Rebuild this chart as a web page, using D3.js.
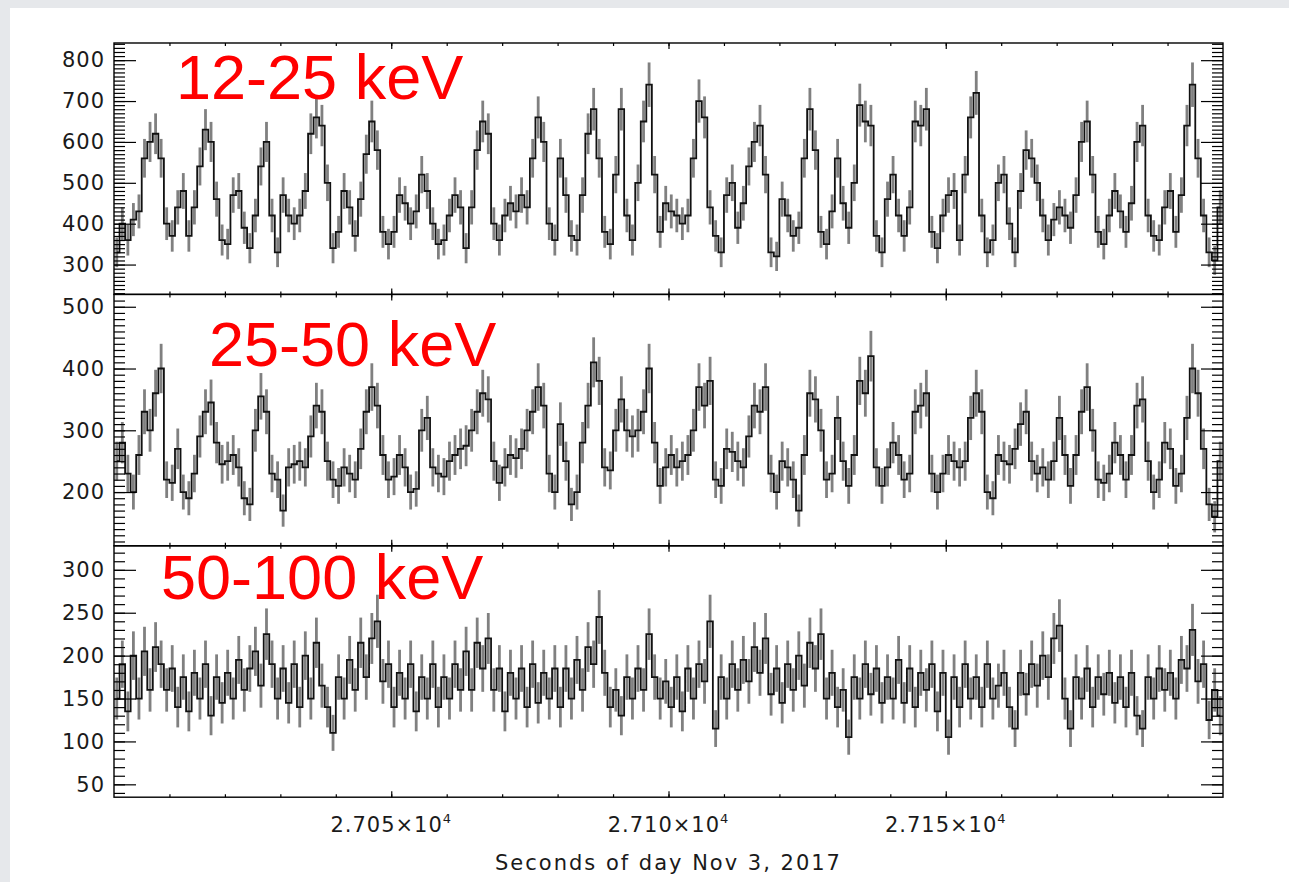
<!DOCTYPE html>
<html>
<head>
<meta charset="utf-8">
<script src="https://cdn.jsdelivr.net/npm/d3@7"></script>
<style>
  html, body { margin: 0; padding: 0; background: #e6e8eb; }
  svg { display: block; }
  .axis path.domain { display: none; }
  .axis line { stroke: #000; stroke-width: 1.2; }
  .axis text, .xlabel, .xtitle {
    font-family: "DejaVu Sans", sans-serif;
    font-weight: 400;
    font-size: 21px;
    fill: #1a1a1a;
    letter-spacing: 1px;
  }
  .band { font-family: "Liberation Sans", Arial, sans-serif; font-size: 63px; fill: #ff0000; }
</style>
</head>
<body>
<div id="chart"></div>
<script>
// Time axis: 1 s samples starting at 27000 s of day
var timeStart = 27000;
var binSize = 1;

// count rates (counts/s), one value per second
var counts12to25 = [
  330, 400, 360, 410, 430, 560, 600, 620, 560, 400,
  370, 440, 480, 370, 440, 540, 630, 600, 460, 360,
  350, 470, 480, 390, 340, 420, 540, 600, 420, 330,
  470, 420, 400, 420, 480, 620, 660, 640, 500, 340,
  380, 480, 440, 370, 460, 570, 650, 580, 380, 350,
  380, 470, 450, 400, 430, 520, 480, 400, 350, 360,
  420, 470, 440, 340, 440, 580, 650, 620, 400, 360,
  420, 450, 430, 470, 440, 560, 660, 600, 400, 360,
  560, 470, 370, 360, 470, 620, 680, 560, 380, 350,
  520, 680, 420, 360, 500, 650, 740, 520, 380, 450,
  430, 420, 400, 420, 560, 700, 660, 440, 370, 330,
  470, 500, 390, 450, 540, 600, 640, 520, 330, 320,
  460, 420, 370, 390, 560, 680, 580, 380, 350, 430,
  560, 450, 390, 500, 690, 650, 640, 370, 330, 460,
  520, 420, 370, 440, 650, 640, 680, 380, 340, 420,
  470, 480, 360, 520, 660, 720, 420, 330, 360, 500,
  520, 400, 330, 480, 580, 560, 500, 420, 360, 410,
  440, 420, 390, 470, 600, 650, 520, 380, 350, 420,
  480, 430, 380, 450, 600, 640, 420, 370, 360, 440,
  480, 380, 470, 640, 740, 560, 420, 330, 310, 440
];

var counts25to50 = [
  250, 280, 230, 200, 260, 330, 300, 360, 400, 220,
  215, 270, 200, 190, 230, 290, 330, 345, 280, 245,
  250, 260, 240, 190, 180, 300, 355, 330, 230, 220,
  170, 240, 245, 250, 240, 290, 340, 330, 250, 220,
  210, 240, 230, 220, 270, 330, 370, 340, 260, 220,
  225, 260, 240, 200, 205, 300, 320, 240, 230, 225,
  250, 260, 270, 275, 300, 330, 360, 350, 250, 215,
  240, 260, 255, 270, 300, 330, 370, 340, 230, 200,
  310, 250, 180, 200, 280, 340, 410, 380, 240, 235,
  300, 350, 300, 290, 300, 330, 400, 280, 210, 240,
  260, 240, 250, 260, 300, 370, 340, 380, 220, 210,
  270, 265, 250, 240, 290, 340, 330, 370, 230, 200,
  250, 240, 220, 170, 260, 360, 350, 300, 220, 230,
  320, 250, 210, 260, 380, 360, 420, 240, 210, 240,
  280, 260, 220, 230, 330, 340, 360, 230, 200, 230,
  260, 250, 240, 250, 320, 360, 330, 200, 190, 260,
  250, 245, 270, 310, 330, 250, 230, 240, 220, 250,
  320, 260, 210, 260, 330, 370, 300, 220, 215, 230,
  280, 260, 220, 260, 340, 350, 250, 200, 220, 280,
  270, 210, 230, 320, 400, 360, 270, 180, 160, 250
];

var counts50to100 = [
  150, 190, 135, 200, 150, 205, 160, 210, 190, 160,
  185, 140, 175, 135, 180, 150, 190, 130, 175, 145,
  180, 150, 195, 160, 185, 205, 165, 225, 190, 150,
  185, 145, 190, 140, 200, 150, 215, 165, 140, 110,
  175, 150, 195, 160, 215, 175, 220, 240, 170, 190,
  140, 180, 150, 190, 135, 175, 150, 190, 140, 175,
  150, 190, 160, 205, 160, 215, 185, 220, 160, 185,
  135, 180, 150, 185, 140, 190, 145, 180, 150, 185,
  140, 185, 150, 195, 160, 210, 190, 245, 180, 140,
  160, 130, 175, 150, 185, 160, 225, 175, 150, 170,
  140, 175, 135, 185, 150, 190, 170, 240, 115, 175,
  150, 190, 160, 195, 170, 210, 180, 220, 155, 185,
  145, 190, 160, 200, 165, 215, 185, 225, 150, 180,
  140, 160, 105, 175, 150, 190, 155, 185, 145, 175,
  150, 195, 145, 185, 140, 180, 160, 190, 135, 180,
  105, 175, 140, 190, 150, 175, 140, 190, 150, 165,
  180, 140, 115, 180, 155, 190, 165, 200, 175, 220,
  235, 150, 115, 175, 150, 185, 140, 175, 155, 180,
  145, 175, 140, 180, 130, 115, 175, 150, 185, 160,
  180, 150, 195, 185, 230, 170, 190, 125, 160, 130
];

var bandLabels = ["12-25 keV", "25-50 keV", "50-100 keV"];
var yDomains = [[227, 842], [113, 520], [35, 328]];
var yTickValues = [
  [300, 400, 500, 600, 700, 800],
  [200, 300, 400, 500],
  [50, 100, 150, 200, 250, 300]
];
var xTickValues = [27050, 27100, 27150];
var xTitle = "Seconds of day Nov 3, 2017";

// accumulation time behind each plotted rate, used for Poisson error bars
var accumTime = 0.25;

// Define SVG area
var svgWidth = 1289;
var svgHeight = 882;
var plot = {left: 114, right: 1223, top: 43, panelHeight: 251.4};

var svg = d3.select("#chart")
  .append("svg")
  .attr("width", svgWidth)
  .attr("height", svgHeight);

// white slide area
svg.append("rect")
  .attr("x", 10)
  .attr("y", 8)
  .attr("width", svgWidth - 10)
  .attr("height", svgHeight - 8)
  .attr("fill", "#fff");

var series = [counts12to25, counts25to50, counts50to100];

var xScale = d3.scaleLinear()
  .domain([timeStart, timeStart + counts12to25.length * binSize])
  .range([plot.left, plot.right]);

var xMinor = d3.range(timeStart + 10, timeStart + counts12to25.length * binSize, 10);

// label offsets inside each panel
var bandPos = [[176, 56], [209, 72], [161, 53]];

series.forEach(function(values, p) {
  var top = plot.top + p * plot.panelHeight;
  var bottom = top + plot.panelHeight;
  var dom = yDomains[p];

  var yScale = d3.scaleLinear()
    .domain(dom)
    .range([bottom, top]);

  var data = values.map(function(v, i) {
    return {t: timeStart + (i + 0.5) * binSize, v: v, err: Math.sqrt(v / accumTime)};
  });

  svg.append("clipPath")
    .attr("id", "clip" + p)
    .append("rect")
    .attr("x", plot.left)
    .attr("y", top)
    .attr("width", plot.right - plot.left)
    .attr("height", plot.panelHeight);

  var dataGroup = svg.append("g")
    .attr("clip-path", "url(#clip" + p + ")");

  // error bars
  dataGroup.selectAll("line.err")
    .data(data)
    .enter()
    .append("line")
    .attr("class", "err")
    .attr("x1", d => xScale(d.t))
    .attr("x2", d => xScale(d.t))
    .attr("y1", d => yScale(d.v - d.err))
    .attr("y2", d => yScale(d.v + d.err))
    .attr("stroke", "#6a6a6a")
    .attr("stroke-width", 2.8)
    .attr("opacity", 0.85);

  // light curve, histogram style
  dataGroup.append("path")
    .datum(data)
    .attr("fill", "none")
    .attr("stroke", "#111")
    .attr("stroke-width", 1.8)
    .attr("d", d3.line().curve(d3.curveStep).x(d => xScale(d.t)).y(d => yScale(d.v)));

  // y axes, ticks pointing inward
  var yMinor = d3.range(Math.ceil(dom[0] / 10) * 10, dom[1], 10);

  svg.append("g").attr("class", "axis")
    .attr("transform", `translate(${plot.left}, 0)`)
    .call(d3.axisLeft(yScale).tickValues(yMinor).tickSize(-11).tickFormat(""));
  svg.append("g").attr("class", "axis")
    .attr("transform", `translate(${plot.left}, 0)`)
    .call(d3.axisLeft(yScale).tickValues(yTickValues[p]).tickSize(-22).tickPadding(9).tickFormat(d3.format("d")));

  svg.append("g").attr("class", "axis")
    .attr("transform", `translate(${plot.right}, 0)`)
    .call(d3.axisRight(yScale).tickValues(yMinor).tickSize(-11).tickFormat(""));
  svg.append("g").attr("class", "axis")
    .attr("transform", `translate(${plot.right}, 0)`)
    .call(d3.axisRight(yScale).tickValues(yTickValues[p]).tickSize(-22).tickFormat(""));

  // x axes, top and bottom of each panel
  svg.append("g").attr("class", "axis")
    .attr("transform", `translate(0, ${bottom})`)
    .call(d3.axisBottom(xScale).tickValues(xMinor).tickSize(-3).tickFormat(""));
  svg.append("g").attr("class", "axis")
    .attr("transform", `translate(0, ${bottom})`)
    .call(d3.axisBottom(xScale).tickValues(xTickValues).tickSize(-6).tickFormat(""));
  svg.append("g").attr("class", "axis")
    .attr("transform", `translate(0, ${top})`)
    .call(d3.axisTop(xScale).tickValues(xMinor).tickSize(-3).tickFormat(""));
  svg.append("g").attr("class", "axis")
    .attr("transform", `translate(0, ${top})`)
    .call(d3.axisTop(xScale).tickValues(xTickValues).tickSize(-6).tickFormat(""));

  // frame
  svg.append("rect")
    .attr("x", plot.left)
    .attr("y", top)
    .attr("width", plot.right - plot.left)
    .attr("height", plot.panelHeight)
    .attr("fill", "none")
    .attr("stroke", "#000")
    .attr("stroke-width", 1.4);

  // energy band label
  svg.append("text")
    .attr("class", "band")
    .attr("x", bandPos[p][0])
    .attr("y", top + bandPos[p][1])
    .text(bandLabels[p]);
});

// x tick labels with exponent
var plotBottom = plot.top + 3 * plot.panelHeight;
var xLabels = svg.selectAll("text.xlabel")
  .data(xTickValues)
  .enter()
  .append("text")
  .attr("class", "xlabel")
  .attr("x", d => xScale(d))
  .attr("y", plotBottom + 35)
  .attr("text-anchor", "middle");
xLabels.append("tspan").text(d => (d / 1e4).toFixed(3) + "\u00d710");
xLabels.append("tspan")
  .attr("dy", -9)
  .attr("font-size", "13px")
  .text("4");

svg.append("text")
  .attr("class", "xtitle")
  .attr("x", (plot.left + plot.right) / 2)
  .attr("y", plotBottom + 73)
  .attr("text-anchor", "middle")
  .style("letter-spacing", "2px")
  .text(xTitle);
</script>
</body>
</html>
